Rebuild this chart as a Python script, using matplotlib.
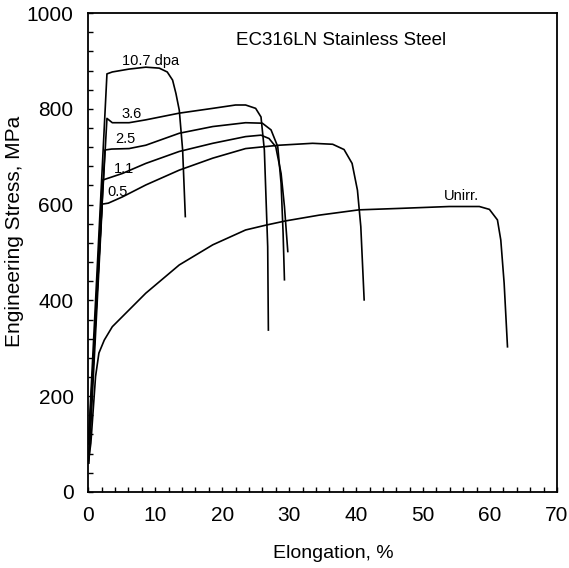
import matplotlib
matplotlib.use("Agg")
import matplotlib.pyplot as plt
from matplotlib.ticker import MultipleLocator

plt.rcParams['font.family'] = ['Liberation Sans', 'DejaVu Sans']

# stress-strain curves (elongation %, stress MPa)
unirr_x = [0.0, 0.4, 1.1, 1.6, 2.4, 3.6, 6.1, 8.6, 13.6, 18.6, 23.5, 26.5, 29.5, 34.5,
           40.4, 46.4, 53.9, 58.4, 59.9, 61.1, 61.6, 62.1, 62.6]
unirr_y = [60, 102, 241, 290, 317, 345, 380, 415, 474, 516, 547, 557, 566, 578,
           589, 592, 596, 596, 590, 568, 526, 436, 303]

d05_x = [0.1, 2.1, 3.0, 5.1, 8.6, 13.6, 18.6, 23.5, 28.5, 33.5, 36.5, 38.2, 39.4,
         40.2, 40.7, 41.2]
d05_y = [60, 601, 603, 616, 641, 672, 697, 717, 724, 728, 726, 715, 686,
         630, 554, 401]

d11_x = [0.1, 2.1, 5.1, 8.6, 13.6, 18.6, 23.5, 25.8, 27.0, 28.0, 28.8, 29.3, 29.8]
d11_y = [80, 651, 665, 686, 711, 728, 742, 745, 738, 721, 665, 596, 502]

d25_x = [0.1, 2.5, 3.5, 6.1, 8.6, 13.6, 18.6, 23.5, 26.0, 27.3, 28.3, 28.8, 29.1, 29.3]
d25_y = [100, 714, 716, 717, 724, 749, 763, 771, 770, 756, 721, 644, 540, 443]

d36_x = [0.1, 2.8, 3.6, 6.1, 8.6, 13.6, 18.6, 22.0, 23.5, 25.0, 25.8, 26.3, 26.8, 26.9]
d36_y = [110, 780, 771, 771, 777, 791, 801, 808, 808, 801, 783, 714, 512, 338]

d107_x = [0.1, 2.8, 3.6, 6.1, 8.6, 10.6, 11.8, 12.6, 13.1, 13.6, 14.1, 14.5]
d107_y = [120, 873, 877, 883, 887, 885, 877, 860, 832, 797, 714, 575]

curve_labels = ["Unirr.", "0.5", "1.1", "2.5", "3.6", "10.7 dpa"]
label_x = [53.1, 2.9, 3.9, 4.0, 5.0, 5.1]
label_y = [618, 627, 674, 738, 790, 900]

fig = plt.figure(figsize=(5.69, 5.68), dpi=100)
ax = fig.add_axes([0.155, 0.134, 0.824, 0.843])

for xs, ys in [(unirr_x, unirr_y), (d05_x, d05_y), (d11_x, d11_y),
               (d25_x, d25_y), (d36_x, d36_y), (d107_x, d107_y)]:
    ax.plot(xs, ys, color="black", lw=1.2)

for t, lx, ly in zip(curve_labels, label_x, label_y):
    ax.text(lx, ly, t, fontsize=10.5, ha="left", va="center")

ax.text(22.0, 942, "EC316LN Stainless Steel", fontsize=13.5, ha="left", va="center")

ax.set_xlim(0, 70)
ax.set_ylim(0, 1000)
ax.xaxis.set_major_locator(MultipleLocator(10))
ax.xaxis.set_minor_locator(MultipleLocator(2))
ax.yaxis.set_major_locator(MultipleLocator(200))
ax.yaxis.set_minor_locator(MultipleLocator(40))
ax.tick_params(which="both", direction="in", length=3.5, width=1, labelsize=15, pad=10.5)
for s in ax.spines.values():
    s.set_linewidth(1.3)

ax.set_xlabel("Elongation, %", fontsize=14)
ax.set_ylabel("Engineering Stress, MPa", fontsize=15)
ax.xaxis.set_label_coords(0.522, -0.11)
ax.yaxis.set_label_coords(-0.137, 0.545)

fig.savefig("out.png", dpi=100)
